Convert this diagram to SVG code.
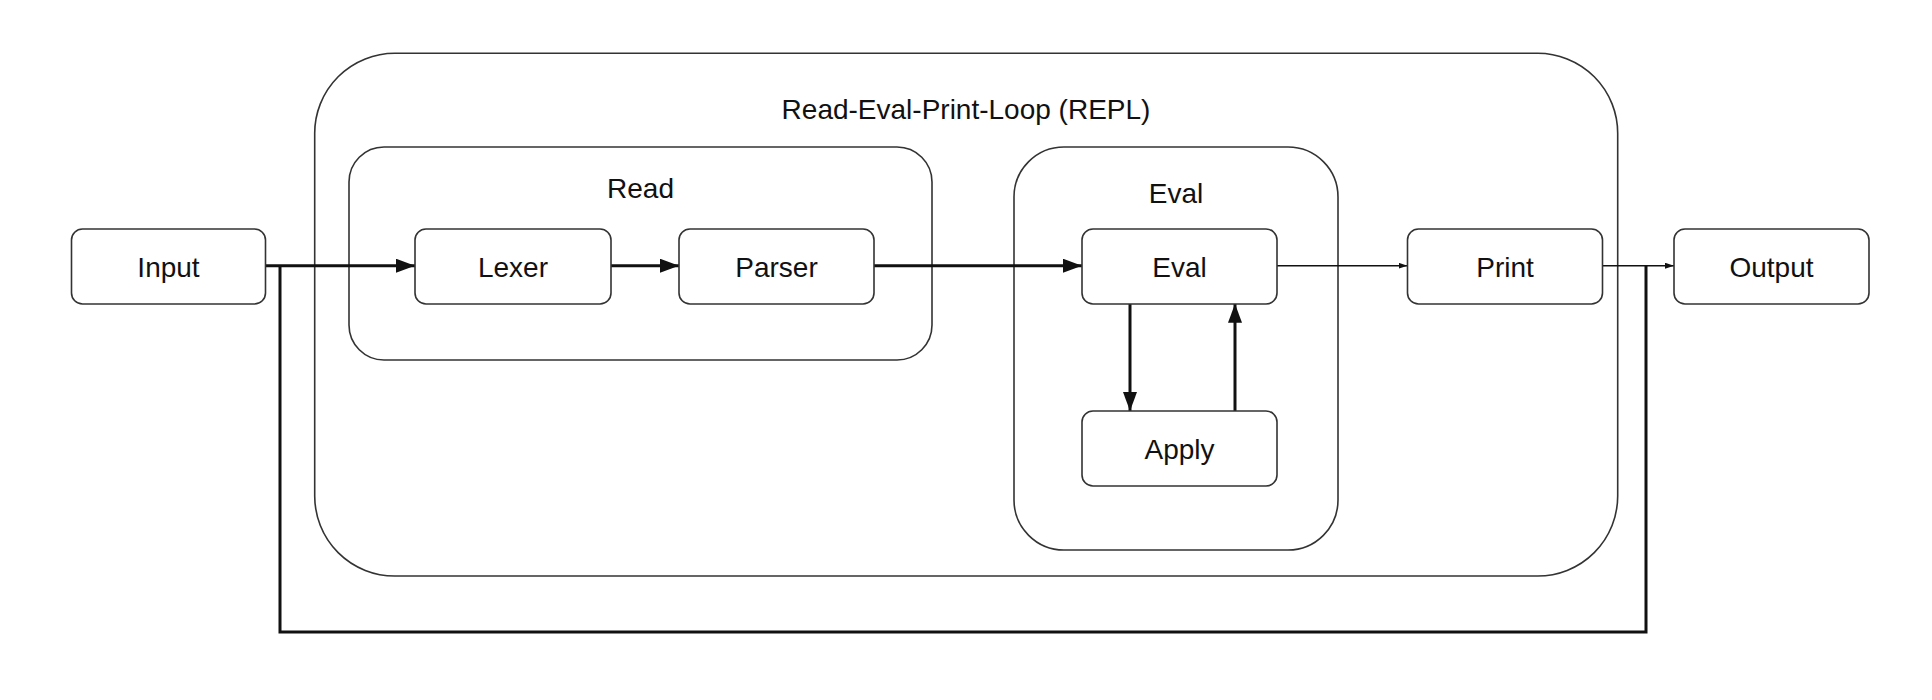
<svg xmlns="http://www.w3.org/2000/svg" width="1932" height="700" viewBox="0 0 1932 700">
<style>
.box{fill:#fff;stroke:#333;stroke-width:1.6}
.grp{fill:none;stroke:#333;stroke-width:1.6}
.lbl{font-family:"Liberation Sans",Arial,sans-serif;font-size:28px;fill:#111;text-anchor:middle}
.thick{fill:none;stroke:#111;stroke-width:3}
.thin{fill:none;stroke:#111;stroke-width:1.5}
</style>
<defs>
<marker id="big" markerUnits="userSpaceOnUse" markerWidth="20" markerHeight="14" refX="19" refY="7" orient="auto">
<path d="M0,0 L19,7 L0,14 Z" fill="#111"/>
</marker>
<marker id="small" markerUnits="userSpaceOnUse" markerWidth="10" markerHeight="6" refX="9" refY="3" orient="auto">
<path d="M0,0 L9,3 L0,6 Z" fill="#111"/>
</marker>
</defs>
<rect width="1932" height="700" fill="#fff"/>
<g id="repl">
<rect class="grp" x="314.7" y="53.3" width="1303" height="522.7" rx="80" ry="80"/>
<text class="lbl" x="966" y="119">Read-Eval-Print-Loop (REPL)</text>
</g>
<g id="read">
<rect class="grp" x="349" y="147" width="583" height="213" rx="35" ry="35"/>
<text class="lbl" x="640.5" y="198">Read</text>
</g>
<g id="evalgroup">
<rect class="grp" x="1014" y="147" width="324" height="403" rx="50" ry="50"/>
<text class="lbl" x="1176" y="203">Eval</text>
</g>
<g id="connectors">
<path class="thick" d="M280,265.7 V632 H1646 V265.7"/>
<path class="thick" d="M265.6,265.7 H415" marker-end="url(#big)"/>
<path class="thick" d="M611,265.7 H679" marker-end="url(#big)"/>
<path class="thick" d="M874,265.7 H1082" marker-end="url(#big)"/>
<path class="thick" d="M1130,303.7 V411" marker-end="url(#big)"/>
<path class="thick" d="M1235,411 V303.7" marker-end="url(#big)"/>
<path class="thin" d="M1277,265.7 H1407.5" marker-end="url(#small)"/>
<path class="thin" d="M1602.5,265.7 H1674" marker-end="url(#small)"/>
</g>
<g id="input">
<rect class="box" x="71.5" y="229" width="194" height="75" rx="11" ry="11"/>
<text class="lbl" x="168.5" y="276.5">Input</text>
</g>
<g id="lexer">
<rect class="box" x="415" y="229" width="196" height="75" rx="11" ry="11"/>
<text class="lbl" x="513" y="276.5">Lexer</text>
</g>
<g id="parser">
<rect class="box" x="679" y="229" width="195" height="75" rx="11" ry="11"/>
<text class="lbl" x="776.5" y="276.5">Parser</text>
</g>
<g id="eval">
<rect class="box" x="1082" y="229" width="195" height="75" rx="11" ry="11"/>
<text class="lbl" x="1179.5" y="276.5">Eval</text>
</g>
<g id="apply">
<rect class="box" x="1082" y="411" width="195" height="75" rx="11" ry="11"/>
<text class="lbl" x="1179.5" y="458.5">Apply</text>
</g>
<g id="print">
<rect class="box" x="1407.5" y="229" width="195" height="75" rx="11" ry="11"/>
<text class="lbl" x="1505" y="276.5">Print</text>
</g>
<g id="output">
<rect class="box" x="1674" y="229" width="195" height="75" rx="11" ry="11"/>
<text class="lbl" x="1771.5" y="276.5">Output</text>
</g>
</svg>
